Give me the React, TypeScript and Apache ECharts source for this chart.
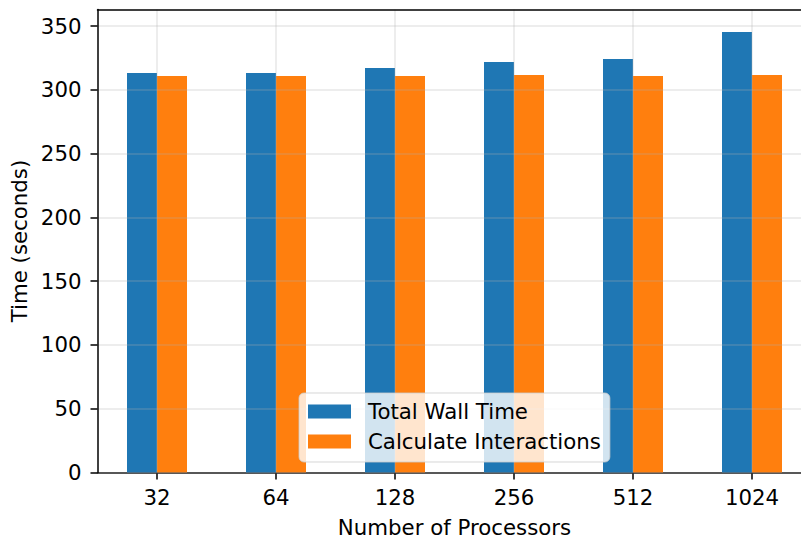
import React, { useEffect, useRef } from "react";
import * as echarts from "echarts";

const categories = ["32", "64", "128", "256", "512", "1024"];
const totalWallTime = [313.2, 313.2, 317.1, 321.8, 324.2, 345.3];
const calculateInteractions = [310.9, 310.9, 310.9, 311.6, 310.9, 311.6];
const yTicks = [0, 50, 100, 150, 200, 250, 300, 350];
const seriesNames = ["Total Wall Time", "Calculate Interactions"];

const FONT = "DejaVu Sans";
const FS = 21.3;

export default function App() {
  const ref = useRef<HTMLDivElement>(null);
  useEffect(() => {
    if (!ref.current) return;
    const chart = echarts.init(ref.current, undefined, { renderer: "svg" });
    // helper half-step axis for vertical gridlines at category centres
    const halfSteps: string[] = [];
    for (let i = 0; i <= categories.length * 2; i++) halfSteps.push("h" + i);
    const gridColor = "rgba(176,176,176,0.3)";
    chart.setOption({
      animation: false,
      textStyle: { fontFamily: FONT },
      grid: { left: 97.5, top: 9.5, width: 714, height: 463, containLabel: false, outerBoundsMode: "none" },
      xAxis: [
        {
          type: "category",
          data: categories,
          boundaryGap: true,
          position: "bottom",
          axisLine: { show: true, lineStyle: { color: "#000", width: 1.5 } },
          axisTick: { show: true, alignWithLabel: true, length: 7, lineStyle: { color: "#000", width: 1.5 } },
          axisLabel: { fontSize: FS, color: "#000", margin: 14, fontFamily: FONT },
          splitLine: { show: false },
          name: "Number of Processors",
          nameLocation: "middle",
          nameGap: 44,
          nameTextStyle: { fontSize: FS, color: "#000", fontFamily: FONT },
        },
        {
          type: "category",
          data: halfSteps,
          boundaryGap: false,
          position: "top",
          z: 3,
          axisLine: { show: true, lineStyle: { color: "#000", width: 1.5 } },
          axisTick: { show: false },
          axisLabel: { show: false },
          splitLine: {
            show: true,
            interval: (index: number) => index % 2 === 1,
            lineStyle: { color: gridColor, width: 1.5 },
          },
        },
      ],
      yAxis: {
        type: "value",
        min: 0,
        max: 363,
        interval: 50,
        z: 3,
        axisLine: { show: true, lineStyle: { color: "#000", width: 1.5 } },
        axisTick: { show: true, length: 7, lineStyle: { color: "#000", width: 1.5 }, customValues: yTicks },
        axisLabel: { fontSize: FS, color: "#000", margin: 16, fontFamily: FONT, customValues: yTicks },
        splitLine: { show: true, lineStyle: { color: gridColor, width: 1.5 } },
        name: "Time (seconds)",
        nameLocation: "middle",
        nameGap: 64,
        nameTextStyle: { fontSize: FS, color: "#000", fontFamily: FONT },
      },
      legend: {
        data: seriesNames,
        orient: "vertical",
        left: 299,
        top: 393,
        icon: "rect",
        itemWidth: 43,
        itemHeight: 14,
        itemGap: 9,
        padding: [8, 9, 10, 9],
        backgroundColor: "rgba(255,255,255,0.8)",
        borderColor: "rgba(204,204,204,0.8)",
        borderWidth: 1,
        borderRadius: 5,
        z: 10,
        textStyle: { fontSize: FS, color: "#000", fontFamily: FONT, padding: [0, 0, 0, 12] },
      },
      series: [
        {
          name: seriesNames[0],
          type: "bar",
          xAxisIndex: 0,
          data: totalWallTime,
          barWidth: 30,
          barGap: "0%",
          itemStyle: { color: "#1f77b4" },
        },
        {
          name: seriesNames[1],
          type: "bar",
          xAxisIndex: 0,
          data: calculateInteractions,
          barWidth: 30,
          barGap: "0%",
          itemStyle: { color: "#ff7f0e" },
        },
      ],
    });
    return () => chart.dispose();
  }, []);
  return (
    <div
      ref={ref}
      style={{ position: "absolute", left: 0, top: 0, width: 801, height: 538, background: "#fff", overflow: "hidden" }}
    />
  );
}
